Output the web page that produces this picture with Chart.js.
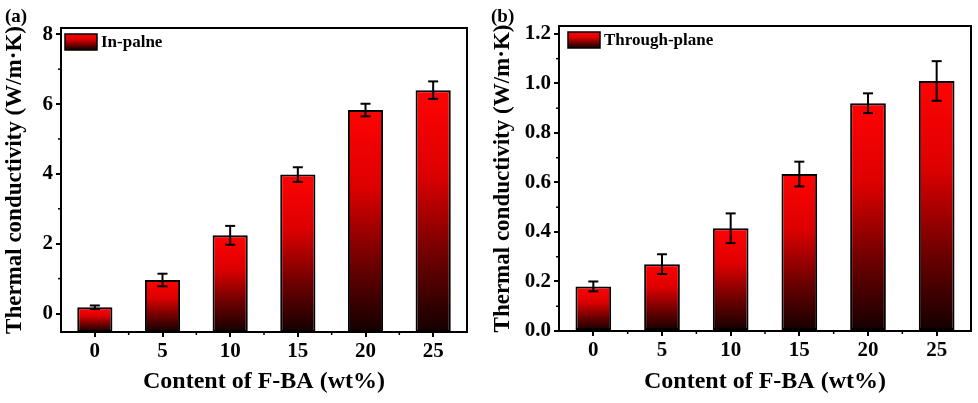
<!DOCTYPE html>
<html>
<head>
<meta charset="utf-8">
<script src="https://cdn.jsdelivr.net/npm/chart.js@4.4.1/dist/chart.umd.min.js"></script>
<style>
  html, body { margin: 0; padding: 0; background: #fff; }
  #wrap { position: relative; width: 978px; height: 403px; }
  #ca { position: absolute; left: 0; top: 0; }
  #cb { position: absolute; left: 488px; top: 0; }
</style>
</head>
<body>
<div id="wrap">
  <canvas id="ca" width="488" height="403"></canvas>
  <canvas id="cb" width="490" height="403"></canvas>
</div>
<script>
// ---- data ----
const categories = ['0', '5', '10', '15', '20', '25'];
const inPlane = [0.18, 0.96, 2.24, 3.98, 5.83, 6.40];
const inPlaneErr = [0.05, 0.18, 0.27, 0.21, 0.18, 0.25];
const throughPlane = [0.18, 0.27, 0.415, 0.634, 0.92, 1.01];
const throughPlaneErr = [0.02, 0.04, 0.06, 0.05, 0.04, 0.08];
const yTicksA = [0, 2, 4, 6, 8];
const yMinorA = [1, 3, 5, 7];
const yTicksB = [0.0, 0.2, 0.4, 0.6, 0.8, 1.0, 1.2];
const yMinorB = [0.1, 0.3, 0.5, 0.7, 0.9, 1.1];
const labelA = 'In-palne';
const labelB = 'Through-plane';
const xTitle = 'Content of F-BA (wt%)';
const yTitle = 'Thermal conductivity (W/m\u00B7K)';

const FONT = "'Liberation Serif', 'Times New Roman', serif";

function barGradient(ctx, top, bottom) {
  const g = ctx.createLinearGradient(0, top, 0, bottom);
  g.addColorStop(0, '#ff0303');
  g.addColorStop(0.35, '#dd0000');
  g.addColorStop(0.7, '#6a0000');
  g.addColorStop(1, '#140000');
  return g;
}

const decor = {
  id: 'decor',
  afterDatasetsDraw(chart) {
    const cfg = chart.options.plugins.decor;
    const { ctx, chartArea: a, scales: { x, y } } = chart;
    const line = (x1, y1, x2, y2) => { ctx.beginPath(); ctx.moveTo(x1, y1); ctx.lineTo(x2, y2); ctx.stroke(); };
    ctx.save();
    ctx.strokeStyle = '#000';
    // frame
    ctx.lineWidth = 2;
    ctx.strokeRect(a.left, a.top, a.right - a.left, a.bottom - a.top);
    // minor ticks
    ctx.lineWidth = 1.5;
    cfg.yMinor.forEach(v => { const py = y.getPixelForValue(v); line(a.left - 3, py, a.left, py); });
    for (let i = 0; i < categories.length - 1; i++) {
      const px = (x.getPixelForValue(i) + x.getPixelForValue(i + 1)) / 2;
      line(px, a.bottom, px, a.bottom + 3);
    }
    // error bars
    ctx.lineWidth = 2;
    const ds = chart.data.datasets[0];
    const meta = chart.getDatasetMeta(0);
    meta.data.forEach((bar, i) => {
      const v = ds.data[i], e = cfg.errors[i];
      const px = bar.x;
      const t = y.getPixelForValue(v + e), b = y.getPixelForValue(v - e);
      line(px, t, px, b);
      line(px - 5, t, px + 5, t);
      line(px - 5, b, px + 5, b);
    });
    // legend
    const lx = a.left + cfg.legendDx, ly = a.top + 6, lw = 32, lh = 16;
    ctx.fillStyle = barGradient(ctx, ly, ly + lh);
    ctx.fillRect(lx, ly, lw, lh);
    ctx.lineWidth = 1.5;
    ctx.strokeRect(lx, ly, lw, lh);
    ctx.fillStyle = '#000';
    ctx.font = 'bold 17px ' + FONT;
    ctx.textBaseline = 'alphabetic';
    ctx.textAlign = 'left';
    ctx.fillText(ds.label, lx + lw + 4, ly + 13);
    ctx.restore();
  },
  afterDraw(chart) {
    const cfg = chart.options.plugins.decor;
    const ctx = chart.ctx;
    ctx.save();
    ctx.fillStyle = '#000';
    ctx.font = 'bold 19px ' + FONT;
    ctx.textAlign = 'left';
    ctx.textBaseline = 'alphabetic';
    ctx.fillText(cfg.panel, cfg.panelX, 22);
    ctx.restore();
  }
};

function makeChart(id, values, errors, label, yMin, yMax, ticks, minor, yWidth, xHeight, pad, panel, panelX, legendDx) {
  return new Chart(document.getElementById(id), {
    type: 'bar',
    data: {
      labels: categories,
      datasets: [{
        label: label,
        data: values,
        base: yMin,
        backgroundColor: (c) => {
          const ch = c.chart;
          if (!ch.chartArea || c.dataIndex === undefined) return '#e00000';
          const ys = ch.scales.y;
          const top = ys.getPixelForValue(values[c.dataIndex]);
          return barGradient(ch.ctx, top, ch.chartArea.bottom);
        },
        borderColor: '#000',
        borderWidth: 2,
        borderSkipped: false,
        barPercentage: 0.52,
        categoryPercentage: 1.0
      }]
    },
    options: {
      responsive: false,
      animation: false,
      layout: { padding: pad },
      plugins: {
        legend: { display: false },
        tooltip: { enabled: false },
        decor: { errors: errors, yMinor: minor, panel: panel, panelX: panelX, legendDx: legendDx }
      },
      scales: {
        x: {
          offset: true,
          border: { display: false },
          grid: { offset: false, drawOnChartArea: false, drawTicks: true, tickLength: 5, color: '#000', lineWidth: 2 },
          ticks: { color: '#000', font: { family: FONT, size: 21, weight: 'bold' }, padding: 2, maxRotation: 0 },
          title: { display: true, text: xTitle, color: '#000', font: { family: FONT, size: 24, weight: 'bold' }, padding: { top: 0, bottom: 7 } },
          afterFit: (s) => { s.height = xHeight; }
        },
        y: {
          min: yMin,
          max: yMax,
          border: { display: false },
          grid: { drawOnChartArea: false, drawTicks: true, tickLength: 5, color: '#000', lineWidth: 2 },
          afterBuildTicks: (s) => { s.ticks = ticks.map(v => ({ value: v })); },
          ticks: {
            color: '#000', padding: 3,
            font: { family: FONT, size: 21, weight: 'bold' },
            callback: (v) => (ticks === yTicksB ? Number(v).toFixed(1) : String(v))
          },
          title: { display: true, text: yTitle, color: '#000', font: { family: FONT, size: 23, weight: 'bold' }, padding: { top: 1, bottom: 0 } },
          afterFit: (s) => { s.width = yWidth; }
        }
      }
    },
    plugins: [decor]
  });
}

makeChart('ca', inPlane, inPlaneErr, labelA, -0.53, 8.18, yTicksA, yMinorA, 61, 71,
  { left: 0, right: 21, top: 28, bottom: 0 }, '(a)', 5, 4);
makeChart('cb', throughPlane, throughPlaneErr, labelB, 0, 1.232, yTicksB, yMinorB, 71, 72,
  { left: 0, right: 7, top: 26, bottom: 0 }, '(b)', 3, 9);
</script>
</body>
</html>
